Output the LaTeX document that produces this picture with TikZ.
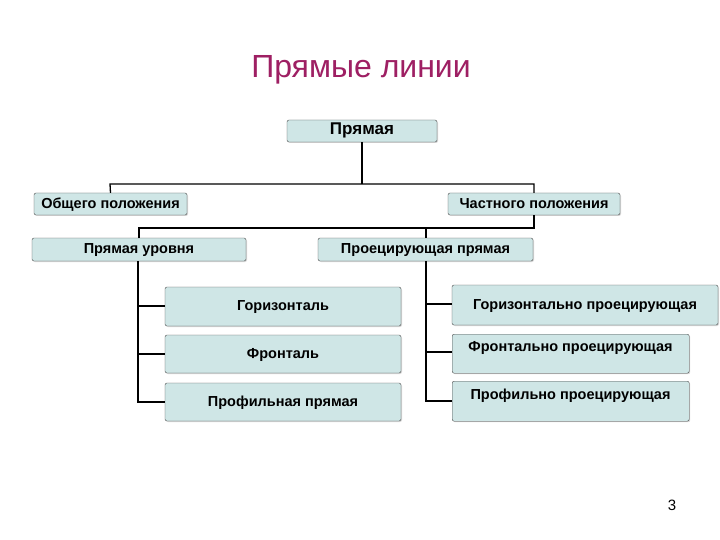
\documentclass[tikz,border=0pt]{standalone}
\usepackage{fontspec}
\setmainfont{Liberation Sans}
\usetikzlibrary{shadows}
\definecolor{boxfill}{HTML}{CFE6E6}
\definecolor{titlec}{HTML}{9E1F63}
\begin{document}
\begin{tikzpicture}[x=1pt,y=-1pt,
  bt/.style={font=\bfseries\fontsize{14.5}{17}\selectfont,text height=10.5pt,text depth=2.5pt},
  bx/.style={bt,draw=black!70,fill=boxfill,rounded corners=2pt,inner sep=0pt,drop shadow={shadow xshift=1pt,shadow yshift=-1pt,opacity=0.3}},
  ln/.style={line width=1.3pt}]
\useasboundingbox[fill=white] (0,0) rectangle (720,540);
\node[font=\fontsize{32}{36}\selectfont,text=titlec] (title) at (361,70) {Прямые линии};
\node[bx,minimum width=150pt,minimum height=22pt,font=\bfseries\fontsize{17}{20}\selectfont] (root) at (362,131) {Прямая};
\node[bx,minimum width=153pt,minimum height=22pt] (gen) at (110.5,204) {Общего положения};
\node[bx,minimum width=172pt,minimum height=22pt] (part) at (534,204) {Частного положения};
\node[bx,minimum width=214pt,minimum height=23pt] (lev) at (139,249.5) {Прямая уровня};
\node[bx,minimum width=215pt,minimum height=23pt] (proj) at (425.5,249.5) {Проецирующая прямая};
\node[bx,minimum width=236pt,minimum height=39pt] (h) at (283,306.5) {Горизонталь};
\node[bx,minimum width=236pt,minimum height=38pt] (f) at (283,354) {Фронталь};
\node[bx,minimum width=236pt,minimum height=38pt] (p) at (283,402) {Профильная прямая};
\node[bx,minimum width=266pt,minimum height=40pt] (hp) at (585,305) {Горизонтально проецирующая};
\node[bx,minimum width=237pt,minimum height=39pt,anchor=north west] (fp) at (452,334) {};
\node[bt] (fpt) at (570.5,347) {Фронтально проецирующая};
\node[bx,minimum width=237pt,minimum height=40pt,anchor=north west] (pp) at (452,381) {};
\node[bt] (ppt) at (570.5,395) {Профильно проецирующая};
\node[font=\fontsize{15}{18}\selectfont] (num) at (672,505) {3};
\coordinate (c1) at (362,184);
\draw[ln] (root.south) -- (c1);
\draw[ln] (gen.north) -- (110,184) -- (534,184) -- (part.north);
\draw[ln] (part.south) -- (534,228) -- (139,228) -- (lev.north);
\draw[ln] (426,228) -- (426,238);
\draw[ln] (138,261) -- (138,403);
\draw[ln] (138,306) -- (165,306);
\draw[ln] (138,354) -- (165,354);
\draw[ln] (138,402) -- (165,402);
\draw[ln] (426,261) -- (426,402);
\draw[ln] (426,304) -- (452,304);
\draw[ln] (426,352) -- (452,352);
\draw[ln] (426,401) -- (452,401);
\end{tikzpicture}
\end{document}
